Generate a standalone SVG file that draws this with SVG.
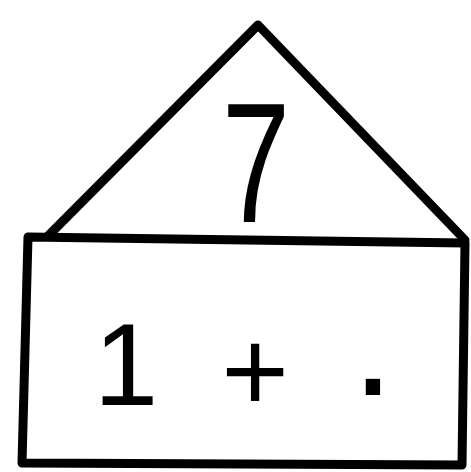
<svg xmlns="http://www.w3.org/2000/svg" width="471" height="472" viewBox="0 0 471 472">
<style>
.ln{fill:none;stroke:#000;stroke-width:9;stroke-linejoin:round;stroke-linecap:round}
.t{font-family:"Liberation Sans",Arial,sans-serif;fill:#000;text-anchor:middle}
</style>
<rect width="471" height="472" fill="#fff"/>
<g id="roof">
<path class="ln" d="M48,236 L258,25 L465,240"/>
<text class="t" x="256" y="222" font-size="170" transform="translate(256 0) scale(0.72 1) translate(-256 0)">7</text>
</g>
<g id="base">
<path class="ln" d="M28,237 L465,243 L462,465 L22,463 Z"/>
<text class="t" font-size="116" y="405"><tspan x="126">1</tspan><tspan x="255" y="411">+</tspan><tspan x="373" y="428" font-size="150">·</tspan></text>
</g>
<g id="connectors"/>
</svg>
